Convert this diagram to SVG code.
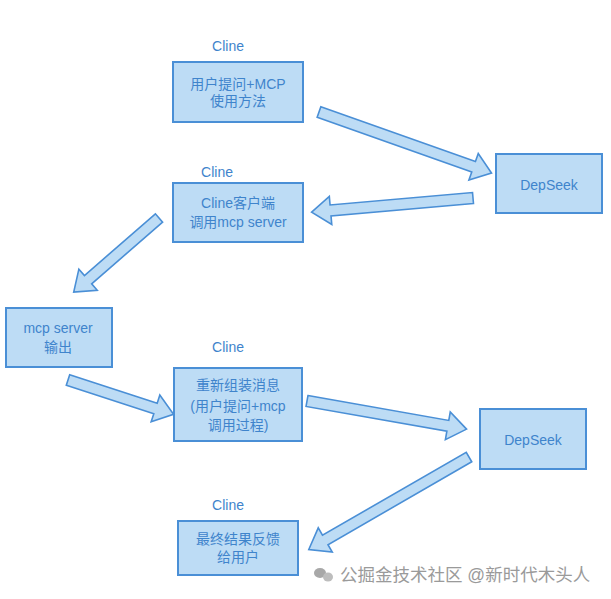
<svg xmlns="http://www.w3.org/2000/svg" width="611" height="599" viewBox="0 0 611 599">
<style>
.box{fill:#BDDCF5;stroke:#4A8FD6;stroke-width:2}
.arr{fill:#BDDCF5;stroke:#4A8FD6;stroke-width:1.6;stroke-linejoin:miter}
text{font-family:"Liberation Sans","Noto Sans CJK SC",sans-serif;fill:#3F84CC;text-anchor:middle}
.t{font-size:14px}
.lbl{font-size:14px}
.wm{font-size:17.5px;fill:#9a9a9a;text-anchor:start}
</style>
<rect width="611" height="599" fill="#ffffff"/>
<g id="connectors">
<polygon class="arr" transform="translate(319,112) rotate(19.5)" points="0,-5.5 164,-5.5 164,-14 183,0 164,14 164,5.5 0,5.5"/>
<polygon class="arr" transform="translate(473,198) rotate(175)" points="0,-5.5 143,-5.5 143,-14 162,0 143,14 143,5.5 0,5.5"/>
<polygon class="arr" transform="translate(159,218) rotate(139)" points="0,-5.5 94,-5.5 94,-14 113,0 94,14 94,5.5 0,5.5"/>
<polygon class="arr" transform="translate(68,380) rotate(18)" points="0,-5.5 92,-5.5 92,-14 111,0 92,14 92,5.5 0,5.5"/>
<polygon class="arr" transform="translate(307,401) rotate(10)" points="0,-5.5 143,-5.5 143,-14 162,0 143,14 143,5.5 0,5.5"/>
<polygon class="arr" transform="translate(469,457) rotate(150)" points="0,-5.5 166,-5.5 166,-14 185,0 166,14 166,5.5 0,5.5"/>
</g>
<g id="node1">
<text class="lbl" x="228" y="51">Cline</text>
<rect class="box" x="173" y="62" width="130" height="60"/>
<text class="t" x="238" y="89">用户提问+MCP</text>
<text class="t" x="238" y="106">使用方法</text>
</g>
<g id="depseek1">
<rect class="box" x="496" y="154" width="106" height="59"/>
<text class="t" x="549" y="190">DepSeek</text>
</g>
<g id="node2">
<text class="lbl" x="217" y="177">Cline</text>
<rect class="box" x="173" y="183" width="130" height="59"/>
<text class="t" x="238" y="208">Cline客户端</text>
<text class="t" x="238" y="227">调用mcp server</text>
</g>
<g id="mcpserver">
<rect class="box" x="6" y="308" width="106" height="59"/>
<text class="t" x="58" y="333">mcp server</text>
<text class="t" x="58" y="352">输出</text>
</g>
<g id="node3">
<text class="lbl" x="228" y="352">Cline</text>
<rect class="box" x="174" y="368" width="128" height="73"/>
<text class="t" x="238" y="390">重新组装消息</text>
<text class="t" x="238" y="411">(用户提问+mcp</text>
<text class="t" x="238" y="430">调用过程)</text>
</g>
<g id="depseek2">
<rect class="box" x="480" y="409" width="106" height="60"/>
<text class="t" x="533" y="445">DepSeek</text>
</g>
<g id="node4">
<text class="lbl" x="228" y="510">Cline</text>
<rect class="box" x="178" y="521" width="120" height="54"/>
<text class="t" x="238" y="544">最终结果反馈</text>
<text class="t" x="238" y="562">给用户</text>
</g>
<g id="watermark">
<ellipse cx="320" cy="573" rx="6" ry="5" fill="#a8a8a8"/>
<ellipse cx="328" cy="577" rx="5" ry="4.5" fill="#bdbdbd"/>
<text class="wm" x="340" y="581">公掘金技术社区 @新时代木头人</text>
</g>
</svg>
